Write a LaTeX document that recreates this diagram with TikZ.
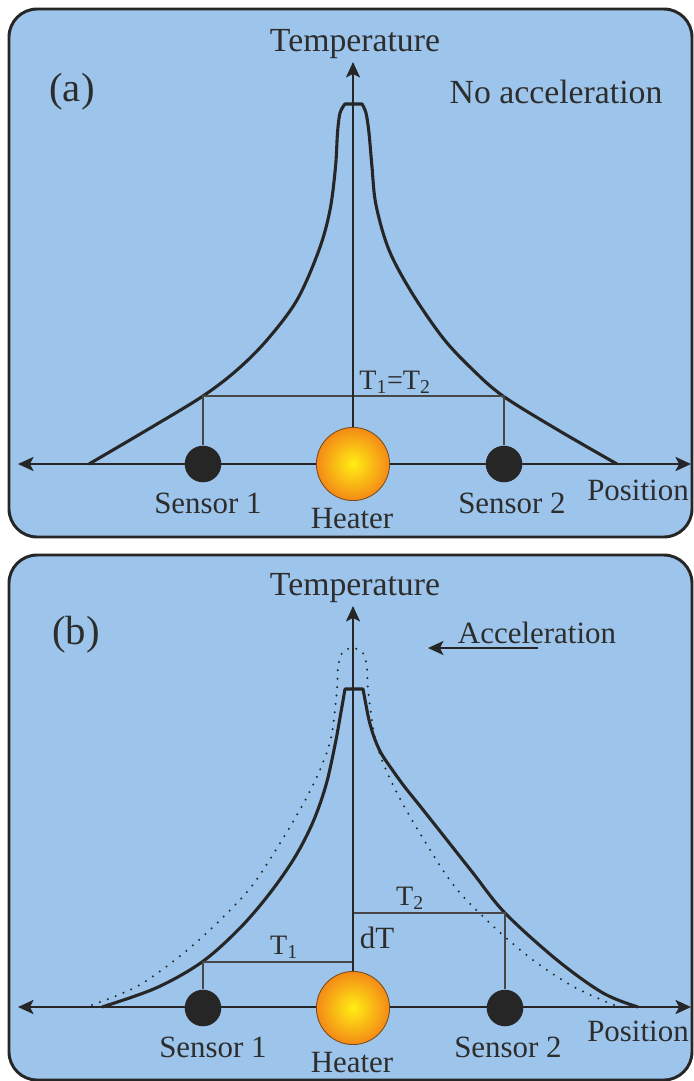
\documentclass[tikz,border=0pt]{standalone}
\usepackage{fontspec}
\setmainfont{Liberation Serif}
\usetikzlibrary{arrows.meta,positioning}
\definecolor{panelblue}{RGB}{157,196,234}
\definecolor{inkgray}{RGB}{38,38,38}
\definecolor{textgray}{RGB}{45,45,45}
\definecolor{hotyellow}{RGB}{255,238,20}
\definecolor{hotorange}{RGB}{244,138,22}
\definecolor{rimbrown}{RGB}{120,75,30}

\begin{document}
\begin{tikzpicture}[
    x=0.025cm, y=-0.025cm,
    >={Stealth[length=11pt,width=10pt,inset=2.5pt]},
    panel/.style={draw=inkgray, line width=2.1pt, fill=panelblue, rounded corners=20pt},
    haxis/.style={<->, line width=1.4pt, draw=inkgray},
    vaxis/.style={->, line width=1pt, draw=inkgray},
    curve/.style={line width=2.2pt, draw=inkgray, line join=round},
    oldcurve/.style={line width=1.6pt, draw=inkgray, dash pattern=on 0pt off 6pt, line cap=round},
    level/.style={line width=0.9pt, draw=inkgray!85},
    sensor/.style={circle, fill=inkgray, minimum size=26pt, inner sep=0pt},
    heater/.style={circle, draw=rimbrown, line width=0.6pt, inner color=hotyellow, outer color=hotorange, minimum size=52pt, inner sep=0pt},
    lbl/.style={font=\fontsize{22}{26}\selectfont, text=textgray, inner sep=0pt},
    biglbl/.style={font=\fontsize{24}{28}\selectfont, text=textgray, inner sep=0pt},
    tag/.style={font=\fontsize{29}{32}\selectfont, text=textgray, inner sep=0pt},
    tlbl/.style={font=\fontsize{20}{24}\selectfont, text=textgray, inner sep=0pt}
]
\useasboundingbox (0,0) rectangle (694,1081);

% (a) no acceleration
\draw[panel] (9,9) rectangle (692,537);
\coordinate (xla) at (18,464);
\coordinate (xra) at (691,464);
\coordinate (ya) at (353,62);
\draw[haxis] (xla) -- (xra);
\draw[curve] plot[smooth, tension=0.55] coordinates {(89,464) (152,427) (203,396) (237,370) (267,340) (297,300) (319,250) (330,210) (335.5,167) (337.5,133) (340,113) (345,104)}
    -- plot[smooth, tension=0.55] coordinates {(362,104) (366,113) (369,133) (372,167) (376,205) (389,250) (412,293) (443,338) (472,369) (503,396) (558,430) (617,464)};
\node[heater] (ha) at (353,464) {};
\node[sensor] (s1a) at (203,464) {};
\node[sensor] (s2a) at (504,464) {};
\coordinate (t1a) at (203,396);
\coordinate (t2a) at (504,396);
\draw[level] (s1a) -- (t1a) -- (t2a) -- (s2a);
\draw[vaxis] (ha) -- (ya);
\node[biglbl] (tempa) at (355,44) {Temperature};
\node[tag] (taga) at (72,92) {(a)};
\node[biglbl] (noacc) at (556,92) {No acceleration};
\node[tlbl] (eqa) at (395,382) {T\textsubscript{1}=T\textsubscript{2}};
\node[lbl] (s1alab) at (208,503) {Sensor 1};
\node[lbl] (halab) at (352,519) {Heater};
\node[lbl] (s2alab) at (512,503) {Sensor 2};
\node[lbl] (posa) at (638,490) {Position};

% (b) acceleration
\draw[panel] (9,555) rectangle (692,1080);
\coordinate (xlb) at (18,1007);
\coordinate (xrb) at (691,1007);
\coordinate (yb) at (353,606);
\draw[haxis] (xlb) -- (xrb);
\draw[oldcurve] plot[smooth, tension=0.55] coordinates {(92,1005) (136,987) (175,960) (213,927) (251,887) (282,840) (308,795) (324,760) (332,733) (337,689) (338,668) (342,653) (352.5,648) (363,653) (367,668) (368,689) (374,733) (382,760) (398,795) (424,840) (455,887) (494,927) (533,960) (574,987) (614,1005)};
\draw[curve] plot[smooth, tension=0.55] coordinates {(102,1007) (156,988) (202,962) (240,928) (270,893) (295,857) (313,822) (326,785) (335,745) (341,712) (345,689)}
    -- plot[smooth, tension=0.55] coordinates {(363,689) (366,705) (369,720) (374,737) (381,753) (391,768) (404,786) (420,806) (443,835) (473,873) (505,913) (557,960) (603,993) (638,1007)};
\node[heater] (hb) at (353,1008) {};
\node[sensor] (s1b) at (203,1008) {};
\node[sensor] (s2b) at (505,1008) {};
\coordinate (t1b) at (203,962);
\coordinate (c1b) at (353,962);
\coordinate (c2b) at (353,913);
\coordinate (t2b) at (505,913);
\draw[level] (s1b) -- (t1b) -- (c1b);
\draw[level] (c2b) -- (t2b) -- (s2b);
\draw[vaxis] (hb) -- (yb);
\coordinate (accr) at (538,648);
\coordinate (accl) at (428,648);
\draw[->, line width=1pt, draw=inkgray] (accr) -- (accl);
\node[biglbl] (tempb) at (355,588) {Temperature};
\node[tag] (tagb) at (76,635) {(b)};
\node[lbl] (acc) at (537,633) {Acceleration};
\node[tlbl] (t1lab) at (284,947) {T\textsubscript{1}};
\node[tlbl] (t2lab) at (410,898) {T\textsubscript{2}};
\node[lbl] (dtlab) at (377,938) {dT};
\node[lbl] (s1blab) at (213,1047) {Sensor 1};
\node[lbl] (hblab) at (352,1063) {Heater};
\node[lbl] (s2blab) at (508,1047) {Sensor 2};
\node[lbl] (posb) at (638,1031) {Position};
\end{tikzpicture}
\end{document}
